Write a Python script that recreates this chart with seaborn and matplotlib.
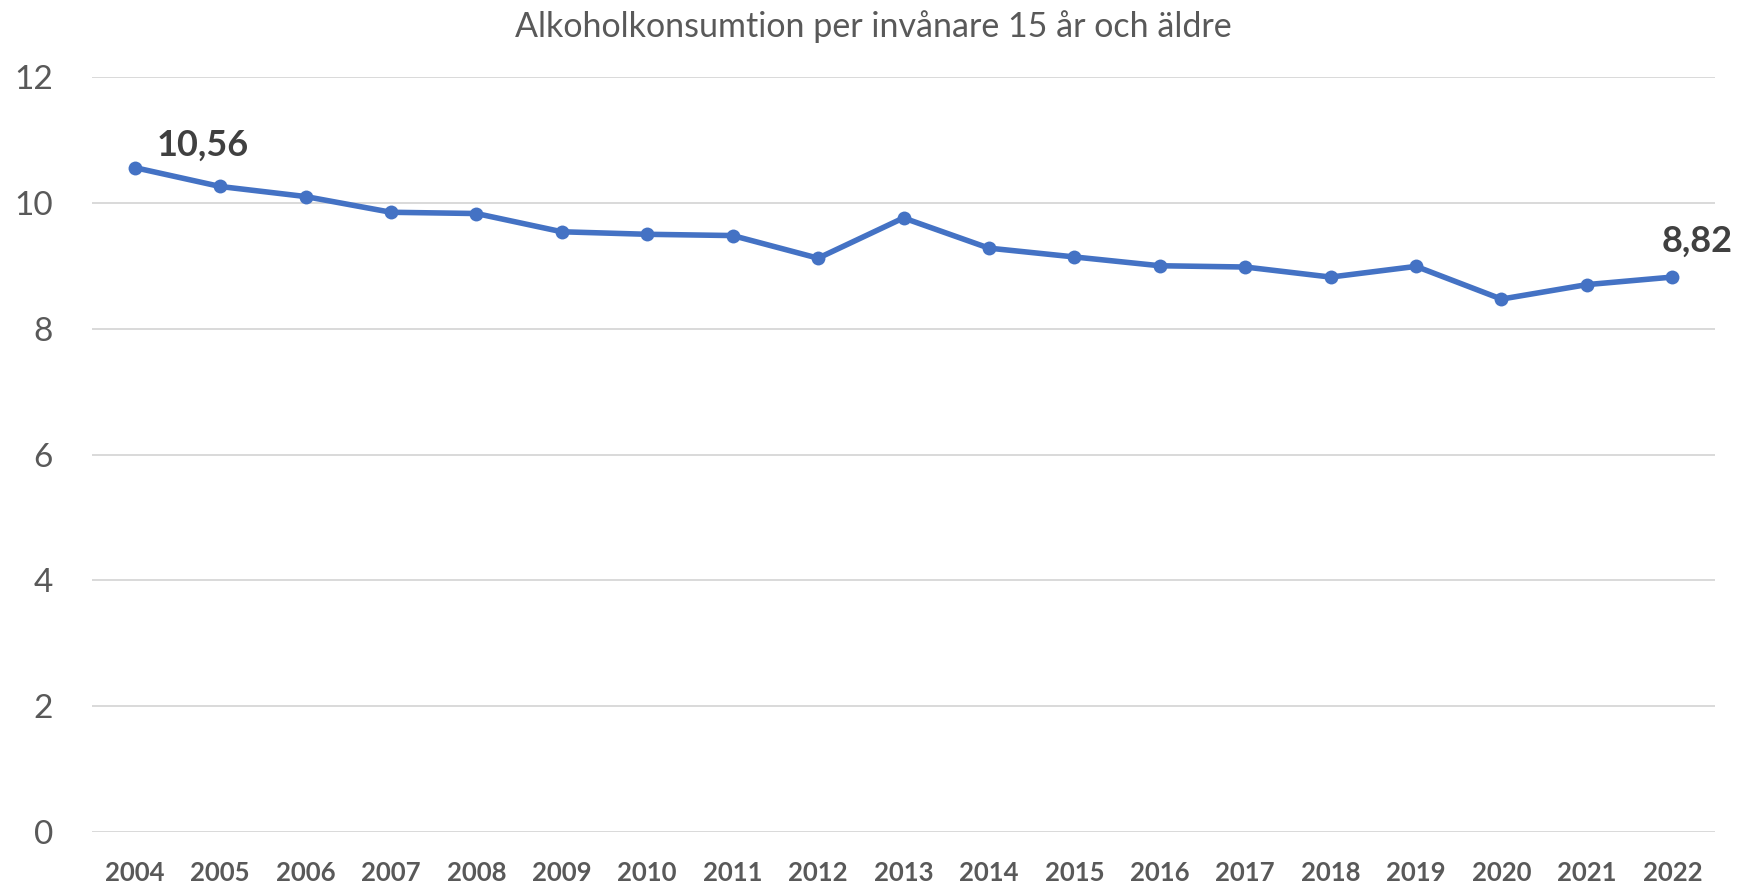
import matplotlib
matplotlib.use("Agg")
import matplotlib.pyplot as plt
import seaborn as sns
import pandas as pd

# Data
years = list(range(2004, 2023))
values = [10.56, 10.26, 10.10, 9.85, 9.83, 9.54, 9.50, 9.48, 9.12, 9.76,
          9.28, 9.14, 9.00, 8.98, 8.82, 8.99, 8.47, 8.70, 8.82]
title = "Alkoholkonsumtion per invånare 15 år och äldre"
yticks = [0, 2, 4, 6, 8, 10, 12]

df = pd.DataFrame({"year": years, "value": values})

sns.set_theme(style="white")
plt.rcParams["font.family"] = ["Lato", "DejaVu Sans"]

fig = plt.figure(figsize=(17.58, 8.88), dpi=100)
ax = fig.add_axes([92 / 1758, 1 - 832 / 888, (1715 - 92) / 1758, (832 - 77) / 888])

sns.lineplot(data=df, x="year", y="value", ax=ax, color="#4472C4", linewidth=4,
             marker="o", markersize=10, markeredgewidth=0)

ax.set_xlim(years[0] - 0.5, years[-1] + 0.5)
ax.set_ylim(0, 12)
ax.set_yticks(yticks)
ax.set_xticks(years)
ax.set_xticklabels([str(y) for y in years], fontsize=18.5, fontweight="bold", color="#595959")
ax.set_yticklabels([str(t) for t in yticks], fontsize=24, color="#595959")
ax.tick_params(axis="y", length=0, pad=28)
ax.tick_params(axis="x", length=0, pad=21)
ax.grid(axis="y", color="#D9D9D9", linewidth=1.4)
ax.set_axisbelow(True)
for s in ax.spines.values():
    s.set_visible(False)
ax.set_xlabel("")
ax.set_ylabel("")

# Etiquetas primeiro e último valor
ax.annotate("10,56", xy=(years[0], values[0]), xytext=(16, 8.6), textcoords="offset points",
            fontsize=26, fontweight="bold", color="#404040", ha="left", va="baseline")
ax.annotate("8,82", xy=(years[-1], values[-1]), xytext=(-8, 18), textcoords="offset points",
            fontsize=26, fontweight="bold", color="#404040", ha="left", va="baseline")

fig.text(873 / 1758, 1 - 37 / 888, title, fontsize=24.5, color="#595959", ha="center", va="baseline")

fig.savefig("out.png", dpi=100)
